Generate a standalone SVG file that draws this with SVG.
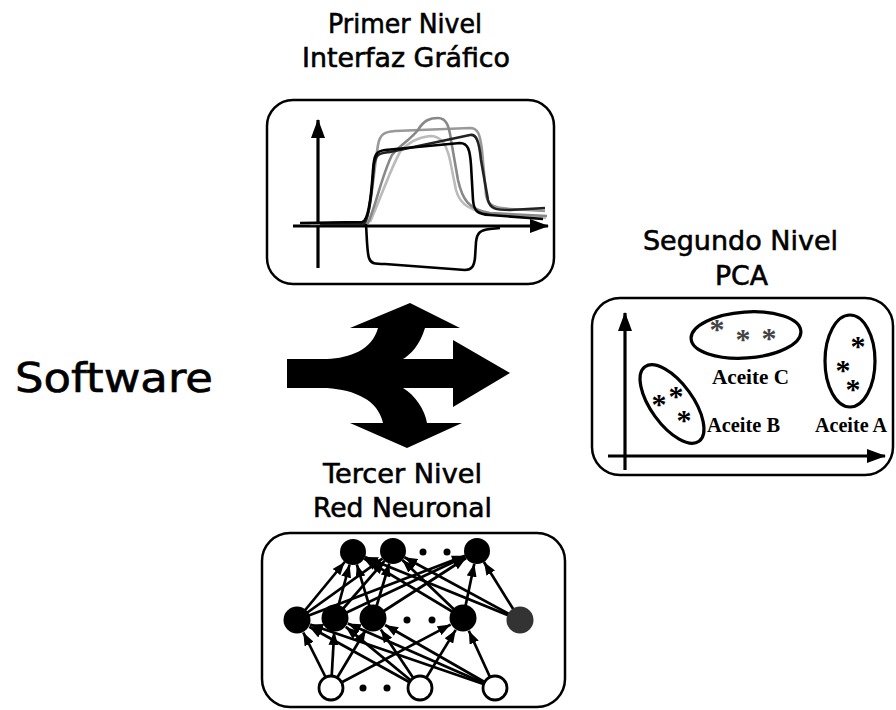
<svg xmlns="http://www.w3.org/2000/svg" width="896" height="710" viewBox="0 0 896 710">
  <style>
    .title { font-family: "DejaVu Sans", Verdana, sans-serif; font-size: 27px; fill: #000; stroke: #000; stroke-width: 0.6; }
    .big { font-family: "DejaVu Sans", Verdana, sans-serif; font-size: 40px; fill: #000; stroke: #000; stroke-width: 0.6; }
    .lbl { font-family: "Liberation Serif", "Times New Roman", serif; font-size: 22px; font-weight: bold; fill: #000; }
    .star { font-family: "Liberation Serif", "Times New Roman", serif; font-size: 30px; font-weight: bold; text-anchor: middle; }
    .frame { fill: #fff; stroke: #000; stroke-width: 2.5; }
    .axis { fill: none; stroke: #000; stroke-width: 3.2; marker-end: url(#axis); }
    .trace { fill: none; stroke-width: 2.6; stroke-linejoin: round; }
    .cluster { fill: none; stroke: #000; stroke-width: 3.2; }
    .link { stroke: #000; stroke-width: 2.7; marker-end: url(#tip); }
    .neuron { fill: #000; }
    .input { fill: #fff; stroke: #000; stroke-width: 2.8; }
    .dot { fill: #000; }
  </style>
  <defs>
    <marker id="axis" markerWidth="19" markerHeight="14" refX="18" refY="7" orient="auto" markerUnits="userSpaceOnUse">
      <path d="M0,0 L19,7 L0,14 z" fill="#000"/>
    </marker>
    <marker id="tip" markerWidth="13" markerHeight="10" refX="13" refY="5" orient="auto" markerUnits="userSpaceOnUse">
      <path d="M0,0 L13,5 L0,10 z" fill="#000"/>
    </marker>
  </defs>

  <rect width="896" height="710" fill="#fff"/>

  <!-- Software label -->
  <g id="software">
    <text class="big" x="15" y="392" textLength="198" lengthAdjust="spacingAndGlyphs">Software</text>
  </g>

  <!-- three-way arrow -->
  <g id="flecha">
    <path fill="#000" d="M287,359 L327,359 C350,358 372,350 378,328 L350,328 L410,303 L460,328 L425,328 C420,345 410,355 403,359 L453,359 L453,340 L510,373 L453,407 L453,388 L403,388 C415,395 425,410 427,423 L462,423 L407,448 L350,423 L383,423 C378,400 355,390 327,388 L287,388 Z"/>
  </g>

  <!-- first level: graphical interface -->
  <g id="nivel1">
    <text class="title" x="328" y="33" textLength="154" lengthAdjust="spacingAndGlyphs">Primer Nivel</text>
    <text class="title" x="302" y="67" textLength="208" lengthAdjust="spacingAndGlyphs">Interfaz Gráfico</text>
    <rect class="frame" x="267" y="100" width="287" height="184" rx="26"/>
    <line class="axis" x1="318" y1="268" x2="318" y2="120"/>
    <line class="axis" x1="293" y1="226" x2="548" y2="226"/>
    <path class="trace" stroke="#bbb" d="M370,222 C380,200 390,170 400,152 C410,140 420,137 430,136 C440,136 446,142 450,160 L456,190 C460,205 470,212 500,215 L546,218"/>
    <path class="trace" stroke="#999" d="M330,223 L366,222 C372,200 374,170 378,145 C380,134 384,132 395,131 L470,128 C478,128 480,134 482,150 L486,195 C488,206 494,208 510,209 L545,211"/>
    <path class="trace" stroke="#888" d="M310,224 L368,223 C376,205 382,175 392,155 C400,145 410,140 418,130 C424,120 430,118 438,118 C446,118 449,125 451,140 L458,180 C462,198 468,210 490,213 L547,216"/>
    <path class="trace" stroke="#222" d="M320,224 L364,224 C370,215 372,190 374,165 C376,155 378,153 390,152 L470,135 C476,134 479,140 481,160 L488,200 C490,209 496,210 510,210 L545,208"/>
    <path class="trace" stroke="#000" d="M300,223 L362,222 C368,221 371,200 373,170 C374,155 376,151 385,150 L460,143 C468,143 470,150 471,165 L473,200 C474,212 478,214 490,215 L543,219"/>
    <path class="trace" stroke="#000" d="M366,224 C367,240 367,252 369,258 C371,264 375,264 385,264 L465,270 C472,270 474,266 475,258 L476,242 C477,233 480,230 490,229 L500,228"/>
  </g>

  <!-- second level: PCA -->
  <g id="nivel2">
    <text class="title" x="643" y="250" textLength="195" lengthAdjust="spacingAndGlyphs">Segundo Nivel</text>
    <text class="title" x="715" y="285" textLength="53" lengthAdjust="spacingAndGlyphs">PCA</text>
    <rect class="frame" x="592" y="298" width="301" height="177" rx="28"/>
    <line class="axis" x1="625" y1="470" x2="625" y2="313"/>
    <line class="axis" x1="608" y1="456" x2="885" y2="456"/>
    <ellipse class="cluster" cx="746" cy="335" rx="55" ry="23" transform="rotate(-4 746 335)"/>
    <ellipse class="cluster" cx="850" cy="361" rx="25" ry="46"/>
    <ellipse class="cluster" cx="672" cy="404" rx="46" ry="21" transform="rotate(54 672 404)"/>
    <!-- sample points, one text per cluster -->
    <text class="star" fill="#444" x="717 743 769" y="339 349 348">***</text>
    <text class="star" x="858 843 853" y="356 380 399">***</text>
    <text class="star" x="659 676 684" y="414 406 430">***</text>
    <text class="lbl" x="712" y="384" textLength="77" lengthAdjust="spacingAndGlyphs">Aceite C</text>
    <text class="lbl" x="707" y="432" textLength="73" lengthAdjust="spacingAndGlyphs">Aceite B</text>
    <text class="lbl" x="815" y="432" textLength="72" lengthAdjust="spacingAndGlyphs">Aceite A</text>
  </g>

  <!-- third level: neural network -->
  <g id="nivel3">
    <text class="title" x="323" y="483" textLength="159" lengthAdjust="spacingAndGlyphs">Tercer Nivel</text>
    <text class="title" x="313" y="517" textLength="179" lengthAdjust="spacingAndGlyphs">Red Neuronal</text>
    <rect class="frame" x="262" y="533" width="303" height="174" rx="28"/>
  </g>

  <!-- network connections -->
  <g id="connectors">
    <line class="link" x1="297" y1="620" x2="344.7" y2="562.0"/>
    <line class="link" x1="297" y1="620" x2="382.4" y2="558.6"/>
    <line class="link" x1="297" y1="620" x2="464.9" y2="555.7"/>
    <line class="link" x1="335" y1="618" x2="349.6" y2="564.5"/>
    <line class="link" x1="335" y1="618" x2="384.5" y2="560.8"/>
    <line class="link" x1="335" y1="618" x2="465.2" y2="556.5"/>
    <line class="link" x1="373" y1="618" x2="356.8" y2="564.4"/>
    <line class="link" x1="373" y1="618" x2="389.3" y2="563.5"/>
    <line class="link" x1="373" y1="618" x2="466.1" y2="558.0"/>
    <line class="link" x1="463" y1="618" x2="364.1" y2="558.7"/>
    <line class="link" x1="463" y1="618" x2="402.4" y2="560.0"/>
    <line class="link" x1="463" y1="618" x2="474.3" y2="563.7"/>
    <line class="link" x1="520" y1="620" x2="365.0" y2="556.9"/>
    <line class="link" x1="520" y1="620" x2="404.4" y2="557.2"/>
    <line class="link" x1="520" y1="620" x2="483.9" y2="562.0"/>
    <line class="link" x1="331" y1="688" x2="303.3" y2="632.5"/>
    <line class="link" x1="331" y1="688" x2="334.2" y2="632.0"/>
    <line class="link" x1="331" y1="688" x2="365.8" y2="630.0"/>
    <line class="link" x1="331" y1="688" x2="450.6" y2="624.6"/>
    <line class="link" x1="420" y1="688" x2="309.3" y2="626.8"/>
    <line class="link" x1="420" y1="688" x2="345.8" y2="626.9"/>
    <line class="link" x1="420" y1="688" x2="380.8" y2="629.6"/>
    <line class="link" x1="420" y1="688" x2="455.7" y2="629.9"/>
    <line class="link" x1="495" y1="688" x2="310.2" y2="624.5"/>
    <line class="link" x1="495" y1="688" x2="347.8" y2="623.6"/>
    <line class="link" x1="495" y1="688" x2="385.1" y2="625.0"/>
    <line class="link" x1="495" y1="688" x2="468.8" y2="630.7"/>
  </g>

  <!-- output layer -->
  <g id="capa-salida">
    <circle class="neuron" cx="353" cy="552" r="13"/>
    <circle class="neuron" cx="393" cy="551" r="13"/>
    <circle class="neuron" cx="477" cy="551" r="13"/>
    <circle class="dot" cx="423" cy="552" r="3.5"/>
    <circle class="dot" cx="447" cy="552" r="3.5"/>
  </g>

  <!-- hidden layer -->
  <g id="capa-oculta">
    <circle class="neuron" cx="297" cy="620" r="13.5"/>
    <circle class="neuron" cx="335" cy="618" r="13.5"/>
    <circle class="neuron" cx="373" cy="618" r="13.5"/>
    <circle class="neuron" cx="463" cy="618" r="13.5"/>
    <circle cx="520" cy="620" r="13.5" fill="#333"/>
    <circle class="dot" cx="407" cy="620" r="3.5"/>
    <circle class="dot" cx="432" cy="620" r="3.5"/>
  </g>

  <!-- input layer -->
  <g id="capa-entrada">
    <circle class="input" cx="331" cy="688" r="12"/>
    <circle class="input" cx="420" cy="688" r="12"/>
    <circle class="input" cx="495" cy="688" r="12" stroke="#555"/>
    <circle class="dot" cx="363" cy="688" r="3.5"/>
    <circle class="dot" cx="387" cy="688" r="3.5"/>
  </g>
</svg>
